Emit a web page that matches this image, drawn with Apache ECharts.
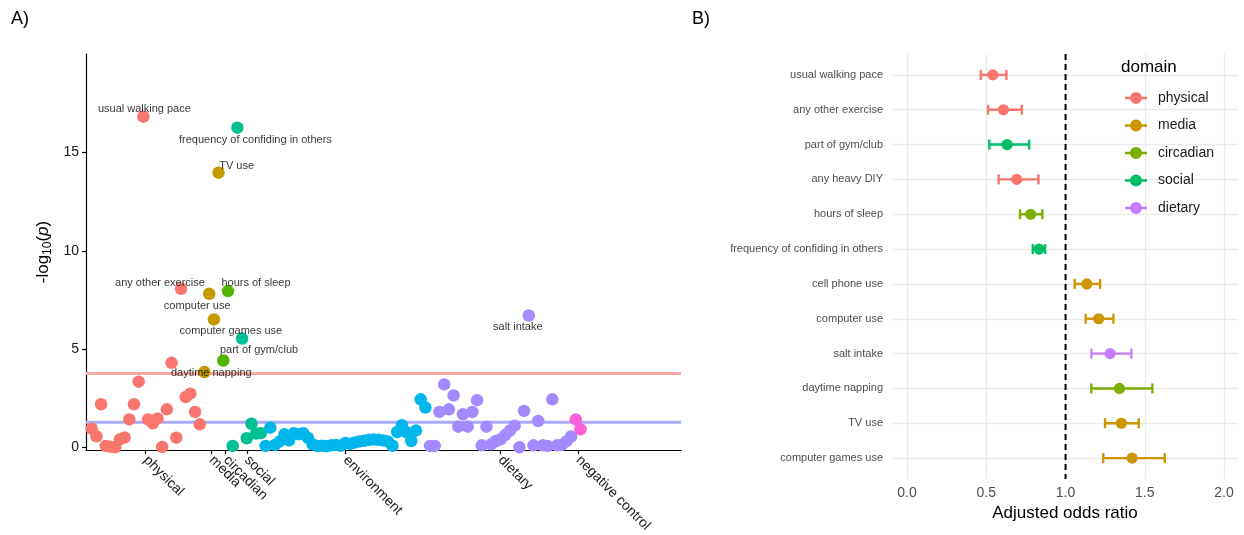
<!DOCTYPE html>
<html><head><meta charset="utf-8">
<script src="https://cdn.jsdelivr.net/npm/echarts@6/dist/echarts.min.js"></script>
<style>html,body{margin:0;padding:0;background:#fff}#c{width:1244px;height:535px}</style>
</head><body><div id="c"></div>
<script>
// ---------- Panel A data: -log10(p) per variable, in plotting order within each domain ----------
const domainsA = ['physical', 'media', 'circadian', 'social', 'environment', 'dietary', 'negative control'];
const physicalP = [0.95, 0.56, 2.19, 0.07, 0.03, 0.0, 0.4, 0.5, 1.42, 2.19, 3.34, 16.83, 1.42, 1.22, 1.47, 0.02, 1.93, 4.3, 0.49, 8.07, 2.56, 2.73, 1.8, 1.17];
const mediaP = [3.83, 7.81, 6.51, 13.98];
const circadianP = [4.42, 7.95];
const socialP = [0.07, 16.27, 5.54, 0.46, 1.2, 0.7, 0.72];
const environmentP = [0.07, 1.0, 0.12, 0.3, 0.66, 0.35, 0.72, 0.66, 0.72, 0.48, 0.15, 0.06, 0.08, 0.05, 0.1, 0.12, 0.08, 0.22, 0.18, 0.25, 0.3, 0.33, 0.38, 0.4, 0.38, 0.35, 0.3, 0.08, 0.78, 1.12, 0.76, 0.32, 0.85, 2.44, 2.02];
const dietaryP = [0.07, 0.07, 1.8, 3.2, 1.93, 2.64, 1.05, 1.68, 1.05, 1.8, 2.4, 0.1, 1.05, 0.15, 0.32, 0.41, 0.62, 0.85, 1.1, 0.0, 1.85, 6.71, 0.1, 1.34, 0.1, 0.07, 2.44, 0.1, 0.12, 0.3, 0.55];
const negativeControlP = [1.42, 0.92];
const thresholdBonferroni = 3.76;
const thresholdNominal = 1.27;
const yTicksA = [0, 5, 10, 15];
// labelled points: text, domain, position within domain
const labelText = ['usual walking pace', 'frequency of confiding in others', 'TV use', 'any other exercise', 'hours of sleep', 'computer use', 'computer games use', 'part of gym/club', 'daytime napping', 'salt intake'];
const labelDomain = ['physical', 'social', 'media', 'physical', 'circadian', 'media', 'media', 'social', 'circadian', 'dietary'];
const labelIndex = [11, 1, 3, 19, 1, 1, 2, 2, 0, 21];

// ---------- Panel B data ----------
const traits = ['usual walking pace', 'any other exercise', 'part of gym/club', 'any heavy DIY', 'hours of sleep', 'frequency of confiding in others', 'cell phone use', 'computer use', 'salt intake', 'daytime napping', 'TV use', 'computer games use'];
const traitDomain = ['physical', 'physical', 'social', 'physical', 'circadian', 'social', 'media', 'media', 'dietary', 'circadian', 'media', 'media'];
const oddsRatio = [0.541, 0.608, 0.631, 0.692, 0.780, 0.833, 1.134, 1.209, 1.281, 1.340, 1.352, 1.420];
const ciLow = [0.465, 0.511, 0.519, 0.578, 0.713, 0.793, 1.058, 1.127, 1.163, 1.163, 1.249, 1.238];
const ciHigh = [0.627, 0.724, 0.770, 0.829, 0.854, 0.871, 1.218, 1.302, 1.415, 1.548, 1.462, 1.626];
const domainsB = ['physical', 'media', 'circadian', 'social', 'dietary'];
const xTicksB = [0, 0.5, 1, 1.5, 2];
const nullOR = 1;

// ---------- styles ----------
const colorsA = ['#F8766D', '#C49A00', '#53B400', '#00C094', '#00B6EB', '#A58AFF', '#FB61D7'];
const colorsB = ['#F8766D', '#CD9600', '#7CAE00', '#00BE67', '#C77CFF'];
const labelOffsets = {
  'usual walking pace': [1, -8], 'frequency of confiding in others': [18, 12], 'TV use': [18, -7],
  'any other exercise': [-21, -6], 'hours of sleep': [28, -8], 'computer use': [-12, 12],
  'computer games use': [17, 12], 'part of gym/club': [17, 12], 'daytime napping': [-12, 13], 'salt intake': [-11, 11]
};
const FONT = '"Liberation Sans", Arial, Helvetica, sans-serif';

// ---------- build ----------
const valuesA = [physicalP, mediaP, circadianP, socialP, environmentP, dietaryP, negativeControlP];
const tickPosA = [];
const startIdx = {};
let idx = 1;
const seriesA = valuesA.map((vals, k) => {
  startIdx[domainsA[k]] = idx;
  const data = vals.map((v, j) => [idx + j, v]);
  tickPosA.push(idx + (vals.length - 1) / 2);
  idx += vals.length;
  return {
    type: 'scatter', name: 'A ' + domainsA[k], xAxisIndex: 0, yAxisIndex: 0,
    data: data, symbolSize: 12.5, itemStyle: { color: colorsA[k], opacity: 1 }, z: 3, silent: true
  };
});
const xMinA = -0.21, xMaxA = 126.39;
const tickName = v => {
  let best = 0, bd = 1e9;
  tickPosA.forEach((t, i) => { const d = Math.abs(t - v); if (d < bd) { bd = d; best = i; } });
  return domainsA[best];
};
const labelSeries = {
  type: 'scatter', xAxisIndex: 0, yAxisIndex: 0, symbolSize: 2, z: 6, silent: true,
  itemStyle: { color: 'rgba(0,0,0,0)' },
  data: labelText.map((t, i) => {
    const d = labelDomain[i];
    const vals = valuesA[domainsA.indexOf(d)];
    return {
      value: [startIdx[d] + labelIndex[i], vals[labelIndex[i]]],
      label: { show: true, formatter: t, position: 'inside', offset: labelOffsets[t], fontSize: 11, color: '#000', textBorderWidth: 0, fontFamily: FONT }
    };
  })
};
const hLine = (v, color) => ({
  type: 'line', xAxisIndex: 0, yAxisIndex: 0, data: [[xMinA, v], [xMaxA, v]], symbol: 'none', silent: true,
  lineStyle: { color: color, width: 3 }, z: 1
});

function renderForest(params, api) {
  const y = api.value(2);
  const a = api.coord([api.value(0), y]);
  const b = api.coord([api.value(1), y]);
  const m = api.coord([api.value(3), y]);
  const c = api.visual('color');
  const ls = { stroke: c, lineWidth: 2.4 };
  return {
    type: 'group', children: [
      { type: 'line', shape: { x1: a[0], y1: a[1], x2: b[0], y2: b[1] }, style: ls },
      { type: 'line', shape: { x1: a[0], y1: a[1] - 5, x2: a[0], y2: a[1] + 5 }, style: ls },
      { type: 'line', shape: { x1: b[0], y1: b[1] - 5, x2: b[0], y2: b[1] + 5 }, style: ls },
      { type: 'circle', shape: { cx: m[0], cy: m[1], r: 5.6 }, style: { fill: c } }
    ]
  };
}
const seriesB = domainsB.map((d, k) => ({
  type: 'custom', name: d, xAxisIndex: 1, yAxisIndex: 1, renderItem: renderForest, silent: true,
  itemStyle: { color: colorsB[k] }, encode: { x: [0, 1, 3], y: 2 }, z: 4,
  data: traits.map((t, i) => traitDomain[i] === d ? [ciLow[i], ciHigh[i], i, oddsRatio[i]] : null).filter(Boolean)
}));
const yIdxB = traits.map((t, i) => i);
const keyIcon = 'path://M0,4.8L22,4.8L22,7.2L0,7.2Z M17,6A6,6,0,1,1,5,6A6,6,0,1,1,17,6Z';

const option = {
  animation: false,
  textStyle: { fontFamily: FONT },
  title: [
    { text: 'A)', left: 11, top: 10, padding: 0, textStyle: { fontSize: 18, fontWeight: 'normal', color: '#000', fontFamily: FONT } },
    { text: 'B)', left: 692, top: 10, padding: 0, textStyle: { fontSize: 18, fontWeight: 'normal', color: '#000', fontFamily: FONT } },
    { text: 'domain', left: 1121, top: 59, padding: 0, textStyle: { fontSize: 17, fontWeight: 'normal', color: '#000', fontFamily: FONT } }
  ],
  legend: {
    orient: 'vertical', left: 1125, top: 91, itemWidth: 22, itemHeight: 12, itemGap: 13.5, padding: 0,
    selectedMode: false,
    textStyle: { fontSize: 14, color: '#1a1a1a', lineHeight: 14, padding: [0, 0, 0, 6], fontFamily: FONT },
    data: domainsB.map((d, k) => ({ name: d, icon: keyIcon, itemStyle: { color: colorsB[k] } }))
  },
  grid: [
    { left: 86, top: 54, width: 595, height: 397.5, containLabel: false },
    { left: 892, top: 54, width: 346, height: 425, containLabel: false }
  ],
  xAxis: [
    {
      gridIndex: 0, type: 'value', min: xMinA, max: xMaxA,
      axisLine: { show: true, onZero: false, lineStyle: { color: '#000', width: 1.2 } },
      axisTick: { show: true, length: 4, lineStyle: { color: '#000', width: 1.2 }, customValues: tickPosA },
      axisLabel: { customValues: tickPosA, formatter: tickName, rotate: -45, fontSize: 14, color: '#1a1a1a', margin: 8, fontFamily: FONT },
      splitLine: { show: false }
    },
    {
      gridIndex: 1, type: 'value', min: -0.095, max: 2.088,
      axisLine: { show: false, onZero: false },
      axisTick: { show: false, customValues: xTicksB },
      axisLabel: { customValues: xTicksB, formatter: v => v.toFixed(1), fontSize: 14, color: '#4D4D4D', margin: 7, fontFamily: FONT },
      splitLine: { show: true, lineStyle: { color: '#EBEBEB', width: 1.3 } },
      name: 'Adjusted odds ratio', nameLocation: 'middle', nameGap: 26,
      nameTextStyle: { fontSize: 17, color: '#000', fontFamily: FONT }
    }
  ],
  yAxis: [
    {
      gridIndex: 0, type: 'value', min: -0.14, max: 20.02,
      axisLine: { show: true, onZero: false, lineStyle: { color: '#000', width: 1.2 } },
      axisTick: { show: true, length: 4, lineStyle: { color: '#000', width: 1.2 }, customValues: yTicksA },
      axisLabel: { customValues: yTicksA, fontSize: 14, color: '#1a1a1a', margin: 7, fontFamily: FONT },
      splitLine: { show: false },
      name: '-log{s|10}({i|p})', nameLocation: 'middle', nameRotate: 90, nameGap: 32,
      nameTextStyle: {
        fontSize: 17, color: '#000', fontFamily: FONT,
        rich: {
          s: { fontSize: 12, padding: [10, 0, 0, 0], fontFamily: FONT, color: '#000' },
          i: { fontSize: 17, fontStyle: 'italic', fontFamily: FONT, color: '#000' }
        }
      }
    },
    {
      gridIndex: 1, type: 'value', min: -0.6, max: 11.6, inverse: true,
      axisLine: { show: false, onZero: false },
      axisTick: { show: false, customValues: yIdxB },
      axisLabel: { customValues: yIdxB, formatter: v => traits[Math.round(v)] || '', fontSize: 11, color: '#4D4D4D', margin: 9, fontFamily: FONT },
      splitLine: { show: true, lineStyle: { color: '#EBEBEB', width: 1.3 } }
    }
  ],
  series: [
    hLine(thresholdBonferroni, '#F7AAA6'),
    hLine(thresholdNominal, '#AAAAFA'),
    ...seriesA,
    labelSeries,
    {
      type: 'line', xAxisIndex: 1, yAxisIndex: 1, data: [[nullOR, -0.6], [nullOR, 11.6]], symbol: 'none', silent: true,
      lineStyle: { color: '#000', width: 2, type: [6, 4] }, z: 2
    },
    ...seriesB
  ]
};
const chart = echarts.init(document.getElementById('c'), null, { renderer: 'canvas' });
chart.setOption(option);
</script>
</body></html>
